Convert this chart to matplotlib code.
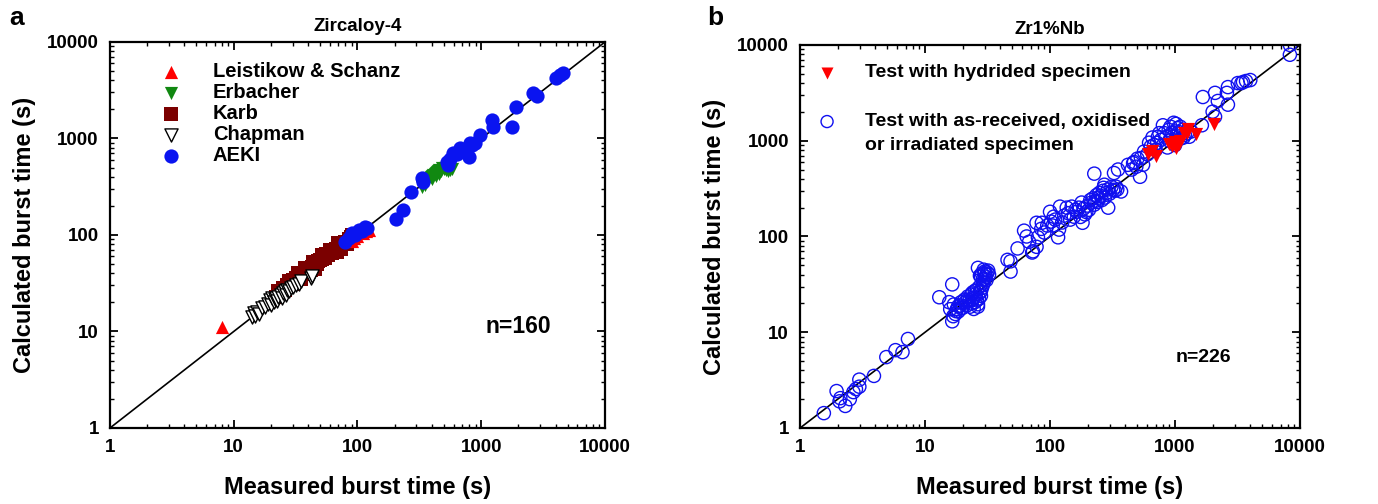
import matplotlib
matplotlib.use("Agg")
import matplotlib.pyplot as plt
from matplotlib.ticker import LogLocator, FixedLocator, FixedFormatter, NullFormatter
import numpy as np

plt.rcParams['font.family'] = ['Liberation Sans', 'DejaVu Sans']
plt.rcParams['font.weight'] = 'bold'

# ---------------- Panel a: Zircaloy-4 ----------------
ls_meas = [8, 123, 93, 110, 85, 100, 118, 90]
ls_calc = [11.1, 113, 93, 105, 88, 97, 110, 86]

karb_meas = [22, 23, 24, 25, 26, 27, 28, 29, 30, 31, 32, 33, 34, 35, 36, 37, 38, 39, 40, 41,
             42, 43, 44, 45, 46, 47, 48, 50, 52, 53, 55, 56, 58, 60, 62, 63, 65, 67, 68, 70,
             72, 74, 75, 78, 80, 82, 85, 30, 35, 45, 88, 90,
             28, 33, 38, 44, 52, 60, 70]
karb_calc = [23, 26, 25, 28, 27, 30, 31, 33, 34, 33, 36, 35, 38, 37, 40, 39, 42, 41, 44, 46,
             43, 47, 49, 46, 52, 50, 54, 55, 56, 60, 58, 63, 62, 66, 65, 70, 68, 72, 66, 75,
             78, 71, 80, 82, 85, 80, 90, 31, 35, 44, 95, 100,
             33, 40, 45, 52, 62, 70, 82]

chap_meas = [14, 14.5, 15, 15.5, 16, 17, 18, 19, 19.5, 20, 20.5, 21, 21.5, 22, 22.5, 23, 24,
             24.5, 25, 26, 26.5, 27, 28, 29, 30, 32, 34, 35, 42, 43]
chap_calc = [14, 15.5, 14.5, 16, 15, 17.5, 18, 19.5, 21, 19, 22, 20, 21.5, 22.5, 20.5, 23, 24,
             22, 25, 26.5, 24, 27, 26, 28.5, 29, 30, 31, 33, 36, 38]

erb_meas = [330, 340, 350, 360, 380, 390, 400, 410, 420, 430, 440, 450, 460, 470, 480, 500,
            520, 540, 560, 580, 350, 370, 400, 430, 460, 510]
erb_calc = [315, 340, 360, 370, 390, 400, 405, 420, 430, 440, 445, 455, 470, 460, 490, 480,
            470, 460, 470, 480, 330, 380, 380, 410, 430, 500]

aeki_meas = [80, 85, 91, 96, 102, 108, 116, 120, 206, 235, 273, 333, 340, 534, 540, 560, 593,
             640, 677, 720, 790, 815, 850, 893, 980, 1230, 1250, 1790, 1910, 2630, 2830, 3990,
             4330, 4590]
aeki_calc = [85, 92, 105, 100, 113, 110, 121, 118, 146, 181, 279, 389, 355, 571, 535, 620, 707,
             690, 795, 760, 645, 898, 850, 898, 1090, 1550, 1320, 1320, 2130, 2960, 2760, 4230,
             4540, 4770]

# ---------------- Panel b: Zr1%Nb ----------------
hyd_meas = [613, 660, 900, 1020, 1070, 1180, 1260, 1480, 2050, 700, 950, 1000, 1100, 1250]
hyd_calc = [733, 787, 930, 845, 930, 1210, 1330, 1180, 1500, 700, 880, 960, 1000, 1200]

oth_meas = [
    1.55, 1.96, 2.07, 2.1, 2.3, 2.5, 2.67, 2.8, 2.98, 2.98, 3.9, 4.9, 5.8, 6.6, 7.3,
    13.0, 16.5, 15.6, 15.9, 16.8, 16.5, 17.7, 18.4, 19.4, 20.8, 22, 23.4, 25, 26.5, 27.3,
    28, 26.5, 30, 29, 17, 18, 19, 20, 21, 21.5, 22.5, 23, 24, 24.5, 25.5, 26, 27, 27.5,
    28, 28.5, 29, 29.5, 30, 30.5, 31, 31.5, 32, 29.5, 28.5, 27.5, 26, 25, 24, 23.5, 22,
    20.5, 19.5, 18.5, 17.5, 26.5, 28, 30, 31, 32.5, 24.5,
    45.7, 48.3, 48.3, 72,
    73, 78, 80, 62, 65, 78, 86, 100, 102, 107, 116, 118, 120, 136, 149, 155, 163, 179, 182,
    190, 214, 226, 243, 248, 268, 272, 282, 292, 320, 337, 350, 370, 226, 325, 462, 490,
    525, 555, 533, 565, 620, 660, 700, 730, 770, 800, 820, 890, 920, 975, 1070, 1170, 870,
    1670, 2090, 2000, 2090, 1640, 2650, 2600, 2650, 3180, 3400, 8300, 8300,
    105, 110, 125, 130, 140, 145, 160, 170, 175, 185, 195, 200, 205, 210, 220, 230, 235,
    240, 255, 260, 265, 275, 290, 300, 310, 330, 345,
    55, 68, 85, 90, 95,
    420, 450, 470, 500, 600, 640, 680, 720, 750,
    850, 900, 940, 960, 1000, 1020, 1050, 1100, 1150, 1200, 1250, 1300, 1350, 1100, 1000,
    2200, 3500, 3700, 4000]
oth_calc = [
    1.43, 2.43, 1.9, 2.05, 1.7, 2.0, 2.37, 2.55, 3.2, 2.7, 3.5, 5.5, 6.5, 6.2, 8.5,
    23.2, 31.6, 20.6, 17.4, 14.7, 13.0, 16.6, 18.7, 20.6, 22, 23.6, 24.8, 20.6, 19.6, 30,
    38, 47, 43, 35.5, 19.5, 17.5, 19, 18, 20.5, 19, 21, 18.5, 22, 23, 25, 21.5, 22.5, 26,
    27, 29, 31, 33, 36, 38, 40, 42, 44, 45, 41, 39, 28, 27, 26, 20, 21.8,
    21.5, 17.8, 16.5, 15.5, 18.5, 24, 41, 35, 40, 17.5,
    57, 55, 43, 68,
    70, 78, 98, 115, 100, 139, 139, 181, 143, 161, 98, 118, 205, 200, 205, 161, 181, 226, 139,
    170, 226, 215, 254, 285, 322, 347, 285, 200, 307, 331, 500, 295, 453, 460, 583, 535,
    420, 560, 660, 770, 953, 1080, 800, 1100, 1020, 1450, 1200, 1300, 1400, 1540, 1230, 1080, 850,
    2860, 3160, 2010, 1780, 1450, 2380, 3160, 3630, 4000, 4000, 10000, 7900,
    130, 150, 140, 165, 175, 150, 190, 200, 160, 195, 180, 210, 190, 240, 250, 235, 270,
    230, 265, 240, 300, 255, 310, 280, 330, 300, 310,
    75, 88, 120, 110, 130,
    560, 500, 600, 650, 720, 870, 900, 950, 1200,
    1100, 1000, 1200, 1100, 1250, 1500, 1350, 1400, 1300, 1150, 1200, 1100, 1250, 1050, 900,
    2600, 4100, 4200, 4300]

ticks = [1, 10, 100, 1000, 10000]
tick_labels = ['1', '10', '100', '1000', '10000']

fig = plt.figure(figsize=(13.78, 5.04), dpi=100)
axa = fig.add_axes([0.0798, 0.1508, 0.3592, 0.7659])
axb = fig.add_axes([0.5806, 0.1508, 0.3628, 0.7600])


def style(ax):
    ax.set_xscale('log')
    ax.set_yscale('log')
    ax.set_xlim(1, 10000)
    ax.set_ylim(1, 10000)
    for axis in (ax.xaxis, ax.yaxis):
        axis.set_major_locator(FixedLocator(ticks))
        axis.set_major_formatter(FixedFormatter(tick_labels))
        axis.set_minor_locator(LogLocator(base=10, subs=np.arange(2, 10)))
        axis.set_minor_formatter(NullFormatter())
    ax.tick_params(which='both', direction='in', top=True, right=True, labelsize=13.5, pad=8)
    ax.tick_params(which='major', length=6, width=1.3)
    ax.tick_params(which='minor', length=3, width=1.0)
    for sp in ax.spines.values():
        sp.set_linewidth(1.6)
    for lab in ax.get_xticklabels() + ax.get_yticklabels():
        lab.set_fontweight('bold')
    ax.plot([1, 10000], [1, 10000], color='black', lw=1.2, zorder=1)
    ax.set_xlabel('Measured burst time (s)', fontsize=17, fontweight='bold', labelpad=14)
    ax.set_ylabel('Calculated burst time (s)', fontsize=17, fontweight='bold', labelpad=8)


style(axa)
style(axb)

ms = 90
axa.scatter(karb_meas, karb_calc, marker='s', s=ms, color='#7b0000', linewidths=0,
            label='Karb', zorder=2)
axa.scatter(ls_meas, ls_calc, marker='^', s=ms, color='red', linewidths=0,
            label='Leistikow & Schanz', zorder=3)
axa.scatter(erb_meas, erb_calc, marker='v', s=ms, color='#118811', linewidths=0,
            label='Erbacher', zorder=3)
axa.scatter(chap_meas, chap_calc, marker='v', s=ms, facecolors='white', edgecolors='black',
            linewidths=1.0, label='Chapman', zorder=4)
axa.scatter(aeki_meas, aeki_calc, marker='o', s=ms + 15, color='#0a14f0', linewidths=0,
            label='AEKI', zorder=5)

h, l = axa.get_legend_handles_labels()
order = ['Leistikow & Schanz', 'Erbacher', 'Karb', 'Chapman', 'AEKI']
hh = [h[l.index(o)] for o in order]
leg = axa.legend(hh, order, loc='upper left', bbox_to_anchor=(0.045, 0.995), frameon=False,
                 prop={'weight': 'bold', 'size': 14.5}, handletextpad=1.1, labelspacing=0.1,
                 scatterpoints=1, markerscale=1.0)

axa.text(0.824, 0.264, 'n=160', transform=axa.transAxes, ha='center', va='center',
         fontsize=16.5, fontweight='bold')
axa.set_title('Zircaloy-4', fontsize=13.5, fontweight='bold', pad=8)

axb.scatter(oth_meas, oth_calc, marker='o', s=ms, facecolors='none', edgecolors='#1010f0',
            linewidths=1.0, zorder=2)
axb.scatter(hyd_meas, hyd_calc, marker='v', s=ms, color='red', linewidths=0, zorder=3)

# legend for panel b (drawn in axes coordinates)
axb.scatter([0.054], [0.928], marker='v', s=75, color='red', linewidths=0,
            transform=axb.transAxes, clip_on=False)
axb.text(0.13, 0.928, 'Test with hydrided specimen', transform=axb.transAxes,
         ha='left', va='center', fontsize=14, fontweight='bold')
axb.scatter([0.054], [0.80], marker='o', s=75, facecolors='none', edgecolors='#1010f0',
            linewidths=1.0, transform=axb.transAxes, clip_on=False)
axb.text(0.13, 0.80, 'Test with as-received, oxidised', transform=axb.transAxes,
         ha='left', va='center', fontsize=14, fontweight='bold')
axb.text(0.13, 0.738, 'or irradiated specimen', transform=axb.transAxes,
         ha='left', va='center', fontsize=14, fontweight='bold')

axb.text(0.806, 0.185, 'n=226', transform=axb.transAxes, ha='center', va='center',
         fontsize=14, fontweight='bold')
axb.set_title('Zr1%Nb', fontsize=13.5, fontweight='bold', pad=8)

fig.text(0.007, 0.965, 'a', fontsize=19, fontweight='bold', ha='left', va='center')
fig.text(0.513, 0.965, 'b', fontsize=19, fontweight='bold', ha='left', va='center')

fig.savefig('out.png', dpi=100)
